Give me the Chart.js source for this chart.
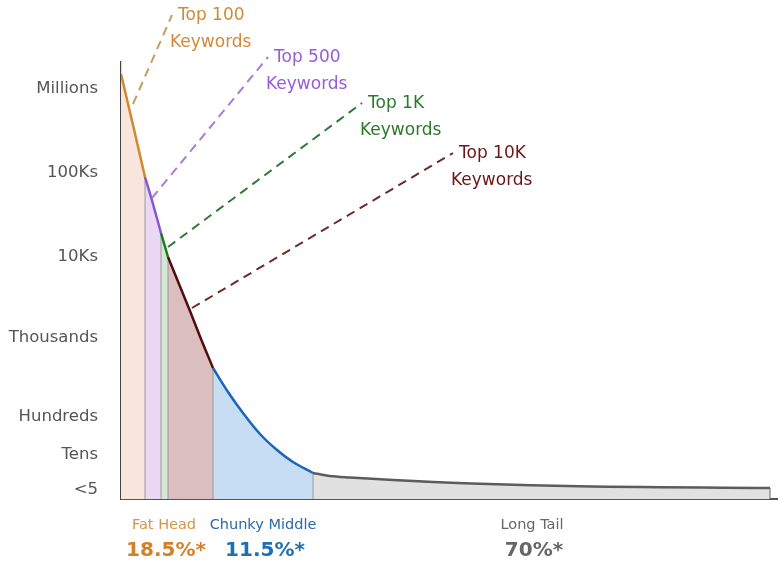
<!DOCTYPE html>
<html lang="en">
<head>
    <meta charset="UTF-8">
    <title>Long Tail Keywords</title>
    <script src="https://cdn.jsdelivr.net/npm/chart.js"></script>
    <style>
        body {
            margin: 0;
            padding: 0;
            background: #ffffff;
        }

        .wrap {
            width: 780px;
            height: 581px;
            position: relative;
        }
    </style>
</head>
<body>
    <div class="wrap">
        <canvas id="tailChart"></canvas>
    </div>

    <script>
        // y levels (relative height above the baseline) and their labels
        const yLevels = [410, 326, 242, 161, 82, 44, 9];
        const yLabels = ['Millions', '100Ks', '10Ks', 'Thousands', 'Hundreds', 'Tens', '<5'];

        // curve segments (x = rank position, y = level)
        const top100X = [0, 12, 24];
        const top100Y = [425, 374, 322];
        const top500X = [24, 32, 40];
        const top500Y = [322, 295, 266];
        const top1kX = [40, 47];
        const top1kY = [266, 242];
        const top10kX = [47, 58, 69, 80, 92];
        const top10kY = [242, 215, 188, 160, 131];
        const middleX = [92, 107, 122, 139, 156, 172, 192];
        const middleY = [131, 107, 86, 65, 49, 37, 26];
        const tailX = [192, 209, 229, 312, 446, 649];
        const tailY = [26, 23, 21.5, 17, 13, 11];

        // dashed leader lines: [start, end] for each keyword group
        const leaderNames = ['Top 100', 'Top 500', 'Top 1K', 'Top 10K'];
        const leaderFromX = [12, 31, 47, 71];
        const leaderFromY = [395, 301, 252, 191];
        const leaderToX = [51, 147, 241, 332];
        const leaderToY = [484, 442, 396, 346];

        // bottom captions
        const groupNames = ['Fat Head', 'Chunky Middle', 'Long Tail'];
        const groupShares = ['18.5%*', '11.5%*', '70%*'];

        const segColors = ['#d4872c', '#8c55d0', '#1f7a1f', '#520d0d', '#1a66b8', '#5c5c5c'];
        const segFills = ['#f8e6dc', '#ead8f6', '#d3e7d3', '#dbbfbf', '#c7ddf3', '#e1e1e1'];
        const leaderColors = ['#c99c62', '#a47ddf', '#2e7a38', '#6e2b2b'];
        const leaderText = ['#d08a3a', '#9a5bd6', '#2b7a2b', '#6b1616'];
        const groupColors = ['#d4954a', '#2a6aa8', '#666666'];
        const shareColors = ['#d4802a', '#1f6fb5', '#666666'];

        const toPoints = (xs, ys) => xs.map((x, i) => ({ x: x, y: ys[i] }));

        const segments = [
            [top100X, top100Y], [top500X, top500Y], [top1kX, top1kY],
            [top10kX, top10kY], [middleX, middleY], [tailX, tailY]
        ];

        const datasets = [];

        segments.forEach(([xs, ys], i) => {
            datasets.push({
                data: toPoints(xs, ys),
                borderColor: segColors[i],
                backgroundColor: segFills[i],
                borderWidth: 2.5,
                fill: 'origin',
                pointRadius: 0,
                cubicInterpolationMode: 'monotone',
                order: 1
            });
            // vertical divider at the right end of each region
            const lx = xs[xs.length - 1];
            const ly = ys[ys.length - 1];
            datasets.push({
                data: [{ x: lx, y: 0 }, { x: lx, y: ly }],
                borderColor: i === segments.length - 1 ? '#666666' : '#9a9a9a',
                borderWidth: 1,
                pointRadius: 0,
                fill: false,
                order: 2
            });
        });

        leaderNames.forEach((name, i) => {
            datasets.push({
                data: [{ x: leaderFromX[i], y: leaderFromY[i] }, { x: leaderToX[i], y: leaderToY[i] }],
                borderColor: leaderColors[i],
                borderWidth: 2,
                borderDash: [9, 6],
                pointRadius: 0,
                fill: false,
                clip: false,
                order: 0
            });
        });

        const textPlugin = {
            id: 'textPlugin',
            afterDatasetsDraw(chart) {
                const { ctx, scales: { x, y } } = chart;
                ctx.save();
                ctx.textBaseline = 'middle';
                ctx.textAlign = 'left';
                ctx.font = '17px "DejaVu Sans", sans-serif';
                leaderNames.forEach((name, i) => {
                    const px = x.getPixelForValue(leaderToX[i]);
                    const py = y.getPixelForValue(leaderToY[i]);
                    ctx.fillStyle = leaderText[i];
                    ctx.fillText(name, px + 6, py + 1);
                    ctx.fillText('Keywords', px - 2, py + 28);
                });

                const centers = [43, 142, 411];
                ctx.textAlign = 'center';
                groupNames.forEach((name, i) => {
                    const cx = x.getPixelForValue(centers[i]);
                    ctx.font = '14.5px "DejaVu Sans", sans-serif';
                    ctx.fillStyle = groupColors[i];
                    ctx.fillText(name, cx, 525);
                    ctx.font = 'bold 20px "DejaVu Sans", sans-serif';
                    ctx.fillStyle = shareColors[i];
                    ctx.fillText(groupShares[i], cx + 2, 551);
                });
                ctx.restore();
            }
        };

        new Chart(document.getElementById('tailChart'), {
            type: 'line',
            data: { datasets: datasets },
            options: {
                responsive: true,
                maintainAspectRatio: false,
                animation: false,
                layout: { padding: { top: 62, right: 3, left: 0, bottom: 0 } },
                plugins: {
                    legend: { display: false },
                    tooltip: { enabled: false },
                    filler: { drawTime: 'beforeDatasetsDraw' }
                },
                scales: {
                    x: {
                        type: 'linear',
                        min: 0,
                        max: 656,
                        grid: { display: false },
                        border: { display: true, color: '#555555', width: 2 },
                        ticks: { display: false },
                        afterFit: (scale) => { scale.height = 82; }
                    },
                    y: {
                        type: 'linear',
                        min: 0,
                        max: 437,
                        grid: { display: false, drawTicks: false },
                        border: { display: true, color: '#444444', width: 1.2 },
                        afterBuildTicks: (scale) => {
                            scale.ticks = yLevels.map(v => ({ value: v }));
                        },
                        ticks: {
                            padding: 23,
                            color: '#555555',
                            font: { family: '"DejaVu Sans", sans-serif', size: 16.5 },
                            callback: (value) => yLabels[yLevels.indexOf(value)]
                        },
                        afterFit: (scale) => { scale.width = 121; }
                    }
                }
            },
            plugins: [textPlugin]
        });
    </script>
</body>
</html>
